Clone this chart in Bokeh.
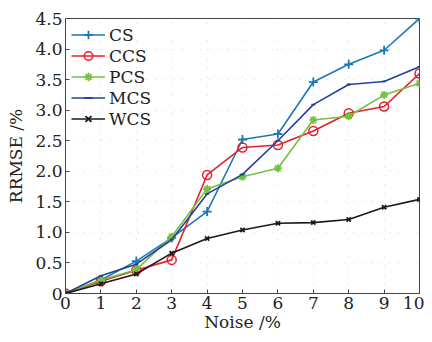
from bokeh.plotting import figure
from bokeh.models import Range1d, FixedTicker, Legend, LegendItem, NumeralTickFormatter
from bokeh.embed import file_html
from bokeh.resources import INLINE

noise = [0, 1, 2, 3, 4, 5, 6, 7, 8, 9, 10]
cs  = [0, 0.22, 0.53, 0.91, 1.34, 2.52, 2.61, 3.46, 3.75, 3.98, 4.5]
ccs = [0, 0.20, 0.38, 0.55, 1.94, 2.39, 2.43, 2.66, 2.95, 3.06, 3.60]
pcs = [0, 0.22, 0.39, 0.93, 1.71, 1.91, 2.05, 2.84, 2.90, 3.25, 3.44]
mcs = [0, 0.29, 0.48, 0.88, 1.63, 1.95, 2.50, 3.09, 3.42, 3.47, 3.71]
wcs = [0, 0.16, 0.32, 0.66, 0.90, 1.04, 1.15, 1.16, 1.21, 1.41, 1.54]
y_ticks = [0, 0.5, 1.0, 1.5, 2.0, 2.5, 3.0, 3.5, 4.0, 4.5]
x_ticks = noise

FONT = "DejaVu Serif"

p = figure(width=424, height=334, output_backend="svg", toolbar_location=None,
           x_range=Range1d(0, 10), y_range=Range1d(0, 4.5),
           min_border_left=65, min_border_right=5, min_border_top=18, min_border_bottom=37)
p.background_fill_color = "white"
p.border_fill_color = "white"
p.outline_line_color = "#444444"

for ax in (p.xaxis[0], p.yaxis[0]):
    ax.major_tick_in = 4
    ax.major_tick_out = 0
    ax.minor_tick_line_color = None
    ax.axis_line_color = "#444444"
    ax.major_tick_line_color = "#444444"
    ax.major_label_text_font = FONT
    ax.major_label_text_font_size = "17px"
    ax.major_label_text_color = "#222222"
    ax.axis_label_text_font = FONT
    ax.axis_label_text_font_size = "17px"
    ax.axis_label_text_font_style = "normal"
    ax.axis_label_text_color = "#222222"

p.xaxis.ticker = FixedTicker(ticks=x_ticks)
p.yaxis.ticker = FixedTicker(ticks=y_ticks)
p.yaxis.formatter = NumeralTickFormatter(format="0.0")
p.yaxis.major_label_overrides = {0: "0"}
p.xaxis.axis_label = "Noise /%"
p.yaxis.axis_label = "RRMSE /%"
p.xaxis.axis_label_standoff = 0
p.yaxis.axis_label_standoff = 6
p.xaxis.major_label_standoff = 3
p.yaxis.major_label_standoff = 3

p.xgrid.grid_line_color = "#d8d8d8"
p.ygrid.grid_line_color = "#d8d8d8"
p.xgrid.grid_line_dash = "1 8"
p.ygrid.grid_line_dash = "1 8"

items = []
specs = [
    ("CS", cs, "#1b79b5", "cross", 9),
    ("CCS", ccs, "#e5202c", "circle", 9),
    ("PCS", pcs, "#77bf3f", "asterisk", 8),
    ("MCS", mcs, "#24419a", "dash", 4),
    ("WCS", wcs, "#1a1a1a", "x", 6),
]
for name, ys, col, mk, sz in specs:
    r1 = p.line(noise, ys, line_color=col, line_width=1.6)
    if mk == "circle":
        r2 = p.scatter(noise, ys, marker=mk, size=sz, line_color=col, fill_color=None, line_width=1.5)
    else:
        r2 = p.scatter(noise, ys, marker=mk, size=sz, line_color=col, fill_color=col, line_width=1.8)
    items.append(LegendItem(label=name, renderers=[r1, r2]))

legend = Legend(items=items, location="top_left")
legend.label_text_font = FONT
legend.label_text_font_size = "17px"
legend.label_text_color = "#222222"
legend.border_line_color = None
legend.background_fill_alpha = 0.0
legend.glyph_width = 34
legend.spacing = 0
legend.label_height = 21
legend.glyph_height = 21
legend.margin = 6
legend.padding = 8
legend.label_standoff = 4
p.add_layout(legend)

open("out.html", "w").write(file_html(p, INLINE))
